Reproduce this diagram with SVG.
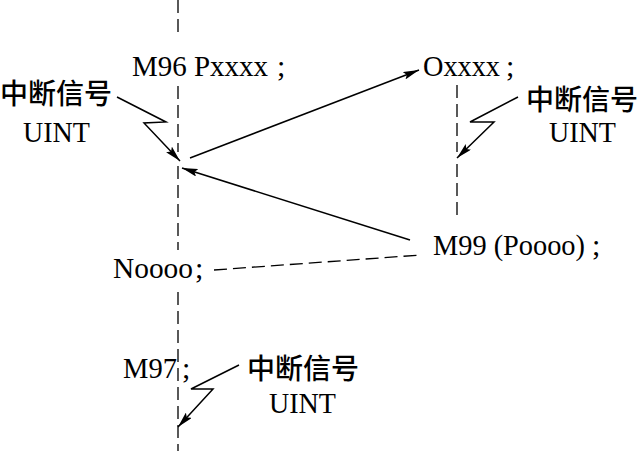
<svg xmlns="http://www.w3.org/2000/svg" width="643" height="451" viewBox="0 0 643 451">
<defs>
<marker id="ah" viewBox="0 0 16 8" refX="16" refY="4" markerWidth="16" markerHeight="8" markerUnits="userSpaceOnUse" orient="auto">
<path d="M0,0 L16,4 L0,8 L3,4 z" fill="#000"/>
</marker>
<style>
.t{font-family:"Liberation Serif","Times New Roman",serif;font-size:30px;fill:#000}
.c{font-family:"Noto Sans CJK SC",sans-serif;font-size:28px;fill:#000;font-weight:500}
.d{stroke:#000;stroke-width:1.3;fill:none;stroke-dasharray:13 6}
.a{stroke:#000;stroke-width:1.5;fill:none;marker-end:url(#ah)}
</style>
</defs>
<rect width="643" height="451" fill="#fff"/>
<g id="connectors">
<line class="d" x1="178" y1="0" x2="178" y2="38"/>
<line class="d" x1="178" y1="86" x2="178" y2="152"/>
<line class="d" x1="178" y1="166" x2="178" y2="250"/>
<line class="d" x1="178" y1="292" x2="178" y2="451"/>
<line class="d" x1="457" y1="85" x2="457" y2="152"/>
<line class="d" x1="457" y1="164" x2="457" y2="220"/>
<line class="d" x1="214" y1="270" x2="421" y2="255"/>
<line class="a" x1="190" y1="158" x2="419" y2="70"/>
<line class="a" x1="410" y1="240" x2="182" y2="168"/>
<polyline class="a" points="117,97 166,122 144,123 180,161"/>
<polyline class="a" points="518,97 470,122 494,122 457,158"/>
<polyline class="a" points="239,365 191,389 213,389 178,427"/>
</g>
<g id="m96"><text class="t" x="132" y="76" textLength="136" lengthAdjust="spacingAndGlyphs">M96 Pxxxx</text><text class="t" x="277" y="76">;</text></g>
<g id="oxxxx"><text class="t" x="423" y="76" textLength="77" lengthAdjust="spacingAndGlyphs">Oxxxx</text><text class="t" x="506" y="76">;</text></g>
<g id="m99"><text class="t" x="433" y="255" style="font-size:28.5px" textLength="152" lengthAdjust="spacingAndGlyphs">M99 (Poooo)</text><text class="t" x="592" y="255">;</text></g>
<g id="noooo"><text class="t" x="113" y="278" textLength="80" lengthAdjust="spacingAndGlyphs">Noooo</text><text class="t" x="195" y="278">;</text></g>
<g id="m97"><text class="t" x="123" y="378" textLength="54" lengthAdjust="spacingAndGlyphs">M97</text><text class="t" x="182" y="378">;</text></g>
<g id="int-left"><text class="c" x="0" y="104">中断信号</text><text class="t" x="23" y="142" textLength="67" lengthAdjust="spacingAndGlyphs">UINT</text></g>
<g id="int-right"><text class="c" x="526" y="110">中断信号</text><text class="t" x="549" y="142" textLength="67" lengthAdjust="spacingAndGlyphs">UINT</text></g>
<g id="int-bottom"><text class="c" x="247" y="379">中断信号</text><text class="t" x="269" y="413" textLength="67" lengthAdjust="spacingAndGlyphs">UINT</text></g>
</svg>
